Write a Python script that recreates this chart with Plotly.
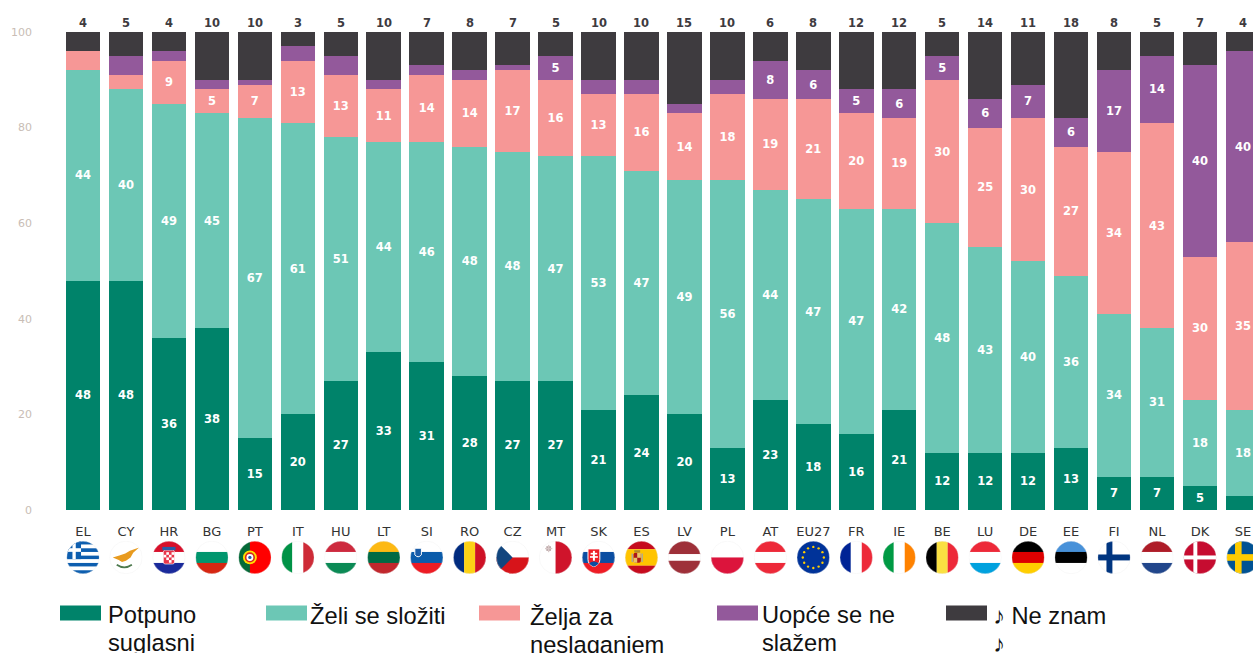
import base64
import math
import plotly.graph_objects as go

# ---------- data ----------
countries = ["EL", "CY", "HR", "BG", "PT", "IT", "HU", "LT", "SI", "RO", "CZ", "MT", "SK", "ES",
             "LV", "PL", "AT", "EU27", "FR", "IE", "BE", "LU", "DE", "EE", "FI", "NL", "DK", "SE"]
potpuno = [48, 48, 36, 38, 15, 20, 27, 33, 31, 28, 27, 27, 21, 24, 20, 13, 23, 18, 16, 21, 12, 12, 12, 13, 7, 7, 5, 3]
zeli = [44, 40, 49, 45, 67, 61, 51, 44, 46, 48, 48, 47, 53, 47, 49, 56, 44, 47, 47, 42, 48, 43, 40, 36, 34, 31, 18, 18]
neslaganje = [4, 3, 9, 5, 7, 13, 13, 11, 14, 14, 17, 16, 13, 16, 14, 18, 19, 21, 20, 19, 30, 25, 30, 27, 34, 43, 30, 35]
uopce = [0, 4, 2, 2, 1, 3, 4, 2, 2, 2, 1, 5, 3, 3, 2, 3, 8, 6, 5, 6, 5, 6, 7, 6, 17, 14, 40, 40]
ne_znam = [4, 5, 4, 10, 10, 3, 5, 10, 7, 8, 7, 5, 10, 10, 15, 10, 6, 8, 12, 12, 5, 14, 11, 18, 8, 5, 7, 4]
y_ticks = [0, 20, 40, 60, 80, 100]
legend_lines = [["Potpuno", "suglasni"], ["Želi se složiti"], ["Želja za", "neslaganjem"],
                ["Uopće se ne", "slažem"], ["♪ Ne znam", "♪"]]

# ---------- style ----------
W, H = 1253, 653
L, T, B = 40, 32, 142.5
PW, PH = W - L, H - T - B
colors = ["#00836a", "#6cc7b5", "#f69796", "#93599b", "#3e3b3f"]
step = 42.96
x0 = 83


def px(x, y):
    return (x - L) / PW, (H - B - y) / PH


fig = go.Figure()
for vals, col in zip([potpuno, zeli, neslaganje, uopce, ne_znam], colors):
    show_label = col != colors[4]
    fig.add_trace(go.Bar(
        x=countries, y=vals, marker=dict(color=col, line=dict(width=0)),
        text=[str(v) if (v >= 5 and show_label) else "" for v in vals],
        textposition="inside", insidetextanchor="middle", textangle=0,
        textfont=dict(family="DejaVu Sans", size=11.5, color="white", weight="bold"),
        hoverinfo="skip",
    ))


# ---------- flags ----------
def hs(*c, w=None):
    w = w or [1] * len(c)
    tot, y, s = sum(w), 0, ""
    for col, k in zip(c, w):
        h = 100 * k / tot
        s += f'<rect x="0" y="{y:.2f}" width="100" height="{h + 0.3:.2f}" fill="{col}"/>'
        y += h
    return s


def vs(*c, w=None):
    w = w or [1] * len(c)
    tot, x, s = sum(w), 0, ""
    for col, k in zip(c, w):
        d = 100 * k / tot
        s += f'<rect x="{x:.2f}" y="0" width="{d + 0.3:.2f}" height="100" fill="{col}"/>'
        x += d
    return s


def cross(bg, fg, cx=36, t=18):
    return (f'<rect width="100" height="100" fill="{bg}"/>'
            f'<rect x="{cx - t / 2}" y="0" width="{t}" height="100" fill="{fg}"/>'
            f'<rect x="0" y="{50 - t / 2}" width="100" height="{t}" fill="{fg}"/>')


def eu():
    s = '<rect width="100" height="100" fill="#003399"/>'
    for k in range(12):
        a = k * math.pi / 6
        s += f'<circle cx="{50 + 32 * math.cos(a):.1f}" cy="{50 + 32 * math.sin(a):.1f}" r="3.6" fill="#ffcc00"/>'
    return s


def greece():
    s = hs(*["#0d5eaf", "#ffffff"] * 4, "#0d5eaf")
    s += '<rect width="44" height="55" fill="#0d5eaf"/>'
    s += '<rect x="18" y="0" width="10" height="55" fill="#fff"/><rect x="0" y="22" width="44" height="11" fill="#fff"/>'
    return s


flags = {
    "EL": greece(),
    "CY": '<rect width="100" height="100" fill="#fff"/>'
          '<path d="M10 50 L30 44 L48 38 L62 30 L90 20 L72 36 L64 50 L50 60 L38 64 L28 58 Z" fill="#e89b1f"/>'
          '<path d="M22 72 Q45 88 68 72" stroke="#4e7a4e" stroke-width="5" fill="none"/>',
    "HR": hs("#d8102b", "#ffffff", "#1a2a9b") +
          '<rect x="33" y="28" width="34" height="42" rx="6" fill="#e8364a"/>'
          '<rect x="33" y="28" width="34" height="42" rx="6" fill="none" stroke="#fff" stroke-width="2"/>'
          '<rect x="42" y="34" width="8" height="8" fill="#fff"/><rect x="58" y="34" width="8" height="8" fill="#fff"/>'
          '<rect x="50" y="42" width="8" height="8" fill="#fff"/><rect x="34" y="42" width="8" height="8" fill="#fff"/>'
          '<rect x="42" y="50" width="8" height="8" fill="#fff"/><rect x="58" y="50" width="8" height="8" fill="#fff"/>'
          '<rect x="50" y="58" width="8" height="8" fill="#fff"/>'
          '<rect x="30" y="18" width="40" height="10" fill="#2a5ca8"/>',
    "BG": hs("#ffffff", "#00966e", "#d62612"),
    "PT": vs("#046a38", "#ff0000", w=[35, 65]) +
          '<circle cx="35" cy="50" r="21" fill="#ffe000"/><circle cx="35" cy="50" r="13" fill="#fff" stroke="#da291c" stroke-width="5"/>'
          '<circle cx="35" cy="50" r="5" fill="#2a5ca8"/>',
    "IT": vs("#009246", "#ffffff", "#ce2b37"),
    "HU": hs("#cd2a3e", "#ffffff", "#0b8a55"),
    "LT": hs("#fdb913", "#006a44", "#c1272d"),
    "SI": hs("#ffffff", "#0b5cab", "#ed1c24") +
          '<path d="M14 22 H34 V42 Q24 54 14 42 Z" fill="#1a5ca8" stroke="#fff" stroke-width="3"/>',
    "RO": vs("#002b7f", "#fcd116", "#ce1126"),
    "CZ": hs("#ffffff", "#d7141a") + '<path d="M0 0 L50 50 L0 100 Z" fill="#11457e"/>',
    "MT": vs("#ffffff", "#cf142b") +
          '<rect x="22" y="16" width="14" height="14" fill="#b9a6a6"/>'
          '<rect x="18" y="21" width="22" height="4" fill="#d8c8c8"/><rect x="27" y="12" width="4" height="22" fill="#d8c8c8"/>',
    "SK": hs("#ffffff", "#0b4ea2", "#ee1c25") +
          '<path d="M18 24 H54 V56 Q54 72 36 78 Q18 72 18 56 Z" fill="#ee1c25" stroke="#fff" stroke-width="3"/>'
          '<rect x="33" y="30" width="6" height="30" fill="#fff"/><rect x="26" y="36" width="20" height="5" fill="#fff"/>'
          '<rect x="24" y="46" width="24" height="5" fill="#fff"/>'
          '<path d="M21 68 Q36 56 51 68 Q45 74 36 78 Q27 74 21 68 Z" fill="#0b4ea2"/>',
    "ES": hs("#c60b1e", "#ffc400", "#c60b1e", w=[1, 2, 1]) +
          '<rect x="26" y="36" width="22" height="30" rx="5" fill="#ad1519"/>'
          '<rect x="37" y="36" width="11" height="15" fill="#e8c36a"/><rect x="26" y="51" width="11" height="15" fill="#e8c36a"/>'
          '<rect x="20" y="38" width="4" height="26" fill="#a5a5a5"/><rect x="50" y="38" width="4" height="26" fill="#a5a5a5"/>'
          '<rect x="28" y="28" width="18" height="7" fill="#b08a2e"/>',
    "LV": hs("#9e3039", "#ffffff", "#9e3039", w=[2, 1, 2]),
    "PL": hs("#ffffff", "#dc143c"),
    "AT": hs("#ed2939", "#ffffff", "#ed2939"),
    "EU27": eu(),
    "FR": vs("#002395", "#ffffff", "#ed2939"),
    "IE": vs("#009a44", "#ffffff", "#ff8200"),
    "BE": vs("#000000", "#fae042", "#ed2939"),
    "LU": hs("#ed2939", "#ffffff", "#00a1de"),
    "DE": hs("#000000", "#dd0000", "#ffce00"),
    "EE": hs("#4891d9", "#000000", "#ffffff"),
    "FI": cross("#ffffff", "#003580"),
    "NL": hs("#ae1c28", "#ffffff", "#21468b"),
    "DK": cross("#c60c30", "#ffffff", t=12),
    "SE": cross("#005293", "#fecb00", t=20),
}


def flag_uri(inner):
    svg = ('<svg xmlns="http://www.w3.org/2000/svg" viewBox="0 0 100 100" width="100" height="100">'
           '<defs><clipPath id="c"><circle cx="50" cy="50" r="49.5"/></clipPath></defs>'
           f'<g clip-path="url(#c)">{inner}</g><circle cx="50" cy="50" r="49.5" fill="none" stroke="#eeeeee" stroke-width="1"/></svg>')
    return "data:image/svg+xml;base64," + base64.b64encode(svg.encode()).decode()


images = []
for i, c in enumerate(countries):
    fx, fy = px(x0 + step * i, 558)
    images.append(dict(source=flag_uri(flags[c]), xref="paper", yref="paper", x=fx, y=fy,
                       sizex=33 / PW, sizey=33 / PH, xanchor="center", yanchor="middle",
                       sizing="contain", layer="above"))

# ---------- hand-placed legend ----------
swatch_x = [60, 266, 479, 717, 946]
text_x = [107, 309, 529, 761, 992]
baseline = [624, 625, 626, 624, 625]
shapes, annos = [], []
for col, sx, tx, lines, base in zip(colors, swatch_x, text_x, legend_lines, baseline):
    a, b = px(sx, 606)
    c, d = px(sx + 41, 621)
    shapes.append(dict(type="rect", xref="paper", yref="paper", x0=a, x1=c, y0=d, y1=b,
                       fillcolor=col, line=dict(width=0)))
    for k, line in enumerate(lines):
        p, q = px(tx, base + 27.5 * k + 6)
        annos.append(dict(xref="paper", yref="paper", x=p, y=q, xanchor="left", yanchor="bottom",
                          text=line, showarrow=False, align="left", borderpad=0,
                          font=dict(family="Liberation Sans", size=23.7, color="#111111")))

# "Ne znam" totals above the bars
for c, v in zip(countries, ne_znam):
    annos.append(dict(xref="x", yref="y", x=c, y=100, yanchor="bottom", xanchor="center", yshift=1,
                      text=str(v), showarrow=False, borderpad=0,
                      font=dict(family="DejaVu Sans", size=11.5, color="#3e3b3f", weight="bold")))

fig.update_layout(
    width=W, height=H, barmode="stack", bargap=0.197, showlegend=False,
    margin=dict(l=L, r=0, t=T, b=B, pad=0),
    paper_bgcolor="white", plot_bgcolor="white",
    images=images, shapes=shapes, annotations=annos,
    xaxis=dict(type="category", categoryorder="array", categoryarray=countries,
               range=[(L - x0) / step, (W - x0) / step], showgrid=False, zeroline=False, showline=False,
               ticks="", ticklabelstandoff=12, tickangle=0,
               tickfont=dict(family="DejaVu Sans", size=13, color="#333333")),
    yaxis=dict(range=[0, 100], tickvals=y_ticks, showgrid=False, zeroline=False, showline=False,
               ticks="", ticklabelstandoff=7,
               tickfont=dict(family="DejaVu Sans", size=11, color="#c9bdb5")),
)

fig.write_html("out.html", config={"displayModeBar": False},
               post_script="document.body.style.margin='0';document.body.style.overflow='hidden';")
